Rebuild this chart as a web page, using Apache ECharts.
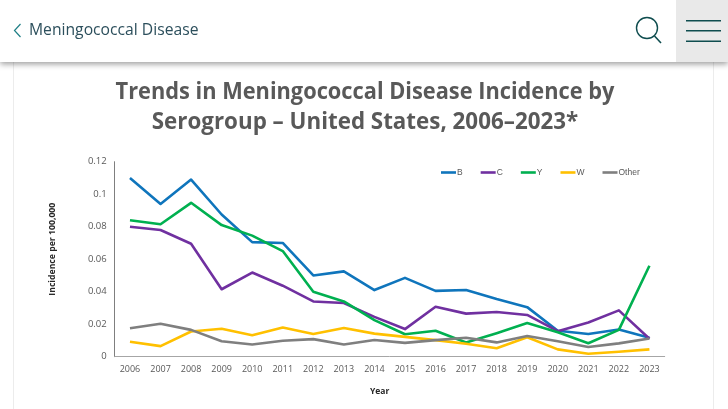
<!DOCTYPE html>
<html>
<head>
<meta charset="utf-8">
<style>html,body{margin:0;padding:0;background:#fff}#chart{width:728px;height:409px}</style>
<script src="https://cdn.jsdelivr.net/npm/echarts@6/dist/echarts.min.js"></script>
</head>
<body>
<div id="chart"></div>
<script>
const years = ['2006','2007','2008','2009','2010','2011','2012','2013','2014','2015','2016','2017','2018','2019','2020','2021','2022','2023'];
const serogroupB = [0.11,0.094,0.109,0.0875,0.0705,0.07,0.05,0.0525,0.041,0.0485,0.0405,0.041,0.0355,0.0305,0.016,0.014,0.0167,0.0117];
const serogroupC = [0.08,0.078,0.0695,0.0415,0.0518,0.0437,0.034,0.033,0.0245,0.017,0.0307,0.0265,0.0275,0.0257,0.0157,0.021,0.0285,0.011];
const serogroupY = [0.084,0.0815,0.0947,0.081,0.0745,0.065,0.04,0.034,0.0225,0.0138,0.016,0.0087,0.0145,0.0207,0.015,0.0083,0.0165,0.056];
const serogroupW = [0.0092,0.0065,0.0155,0.0172,0.0132,0.018,0.014,0.0177,0.0142,0.0122,0.0102,0.008,0.0052,0.012,0.0045,0.0018,0.003,0.0045];
const other = [0.0175,0.0203,0.0165,0.0095,0.0075,0.0098,0.0108,0.0075,0.0103,0.0085,0.0102,0.0117,0.0088,0.0127,0.0095,0.006,0.0082,0.0112];

const lines = [
  { name: 'B', data: serogroupB, color: '#0f75bc' },
  { name: 'C', data: serogroupC, color: '#7030a0' },
  { name: 'Y', data: serogroupY, color: '#00b050' },
  { name: 'W', data: serogroupW, color: '#ffc000' },
  { name: 'Other', data: other, color: '#7f7f7f' },
];

const grey = '#595959';
const headerInk = '#0f4d4f';
const chart = echarts.init(document.getElementById('chart'), null, { renderer: 'canvas' });

chart.setOption({
  animation: false,
  backgroundColor: '#fff',
  color: lines.map((l) => l.color),
  textStyle: { fontFamily: '"Open Sans"' },
  grid: { left: 114.7, right: 63.3, top: 161.7, bottom: 52.3 },
  legend: {
    left: 436,
    top: 163,
    itemWidth: 15,
    itemHeight: 12,
    itemGap: 18,
    icon: 'path://M0 4.7H15V7.3H0Z',
    textStyle: { fontFamily: '"Liberation Sans"', fontSize: 8.5, color: grey, padding: [0, 0, 0, -4] },
    data: lines.map((l) => l.name),
  },
  xAxis: {
    type: 'category',
    data: years,
    name: 'Year',
    nameLocation: 'middle',
    nameGap: 30,
    nameTextStyle: { fontSize: 8.5, fontWeight: 'bold', color: '#262626', padding: [0, 20, 0, 0] },
    axisTick: { show: false },
    axisLine: { lineStyle: { color: '#a6a6a6', width: 1 } },
    axisLabel: { fontSize: 9, color: grey, margin: 8, interval: 0 },
  },
  yAxis: {
    type: 'value',
    min: 0,
    max: 0.12,
    interval: 0.02,
    name: 'Incidence per 100,000',
    nameLocation: 'middle',
    nameGap: 58,
    nameTextStyle: { fontSize: 8.7, fontWeight: 'bold', color: '#262626', padding: [0, 0, 0, 20] },
    splitLine: { show: false },
    axisTick: { show: false },
    axisLine: { show: true, lineStyle: { color: '#7f7f7f', width: 1 } },
    axisLabel: { fontSize: 9.5, color: grey, margin: 8, padding: [2, 0, 0, 0] },
  },
  series: lines.map((l) => ({
    name: l.name,
    type: 'line',
    data: l.data,
    symbol: 'none',
    lineStyle: { color: l.color, width: 2.6, join: 'round' },
  })),
  graphic: [
    // page card edges
    { type: 'rect', shape: { x: 13, y: 60, width: 1, height: 349 }, style: { fill: '#ececec' } },
    { type: 'rect', shape: { x: 713, y: 60, width: 1, height: 349 }, style: { fill: '#ececec' } },
    // app header bar
    { type: 'rect', z: 10, shape: { x: 0, y: 0, width: 728, height: 62 }, style: { fill: '#fff', shadowBlur: 6, shadowColor: 'rgba(0,0,0,0.4)', shadowOffsetY: 2 } },
    { type: 'rect', z: 11, shape: { x: 676, y: 0, width: 52, height: 62 }, style: { fill: '#e9e9e9' } },
    { type: 'polyline', z: 11, shape: { points: [[20.5, 24], [14.5, 30.5], [20.5, 37]] }, style: { stroke: '#1f7f86', lineWidth: 1.2, fill: null } },
    { type: 'text', z: 11, style: { x: 29, y: 31, text: 'Meningococcal Disease', fill: '#2c4f5c', font: '15.7px "Open Sans"', verticalAlign: 'middle' } },
    { type: 'circle', z: 11, shape: { cx: 647, cy: 28, r: 10.5 }, style: { stroke: headerInk, lineWidth: 1.4, fill: null } },
    { type: 'line', z: 11, shape: { x1: 654.5, y1: 36, x2: 661, y2: 43 }, style: { stroke: headerInk, lineWidth: 1.6 } },
    { type: 'rect', z: 11, shape: { x: 686, y: 20, width: 35, height: 1.5 }, style: { fill: headerInk } },
    { type: 'rect', z: 11, shape: { x: 686, y: 30, width: 35, height: 1.5 }, style: { fill: headerInk } },
    { type: 'rect', z: 11, shape: { x: 686, y: 40.5, width: 35, height: 1.5 }, style: { fill: headerInk } },
    // chart heading, squeezed a little to the width of the original face
    { type: 'text', originX: 365, scaleX: 0.947, style: { x: 365, y: 92, text: 'Trends in Meningococcal Disease Incidence by', fill: grey, font: 'bold 23px "Open Sans"', align: 'center', verticalAlign: 'middle' } },
    { type: 'text', originX: 365, scaleX: 0.972, style: { x: 365, y: 122, text: 'Serogroup – United States, 2006–2023*', fill: grey, font: 'bold 23px "Open Sans"', align: 'center', verticalAlign: 'middle' } },
  ],
});
</script>
</body>
</html>
